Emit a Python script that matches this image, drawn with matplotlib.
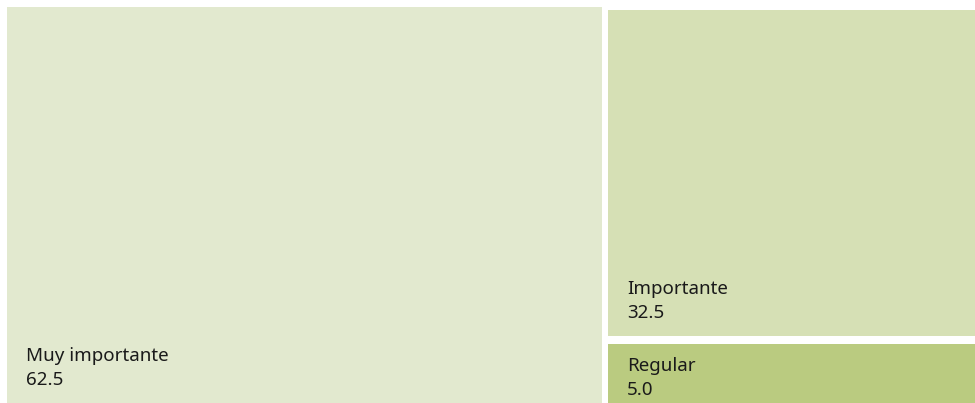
import matplotlib
matplotlib.use('Agg')
import matplotlib.pyplot as plt
from matplotlib.patches import Rectangle

# 데이터
labels = ['Muy importante', 'Importante', 'Regular']
values = [62.5, 32.5, 5.0]
colors = ['#e2e9cf', '#d6e0b5', '#bacb80']

plt.rcParams['font.family'] = ['Noto Sans', 'DejaVu Sans']

fig = plt.figure(figsize=(9.75, 4.03), dpi=100)
ax = fig.add_axes([0, 0, 1, 1])
ax.set_xlim(0, 975)
ax.set_ylim(403, 0)
ax.axis('off')

# 레이아웃 (픽셀 단위)
x0, x1 = 7, 975
top_left, top_right, bottom = 7, 10, 403
hgap, vgap = 6, 8

total = sum(values)
avail_w = (x1 - x0) - hgap
left_w = avail_w * values[0] / total - 6
right_x = x0 + left_w + hgap
right_w = x1 - right_x

avail_h = (bottom - top_right) - vgap
rest = values[1] + values[2]
h1 = avail_h * values[1] / rest - 8
h2 = avail_h - h1

rects = [
    (x0, top_left, left_w, bottom - top_left),
    (right_x, top_right, right_w, h1),
    (right_x, top_right + h1 + vgap, right_w, h2),
]

for (x, y, w, h), lab, val, c in zip(rects, labels, values, colors):
    ax.add_patch(Rectangle((x, y), w, h, facecolor=c, edgecolor='none'))
    pad = min(14, h * 0.07)
    ax.text(x + 19, y + h - pad, f'{lab}\n{val:.1f}', ha='left', va='bottom',
            fontsize=13.5, color='#1a1a1a', linespacing=1.4)

fig.savefig('out.png', dpi=100)
